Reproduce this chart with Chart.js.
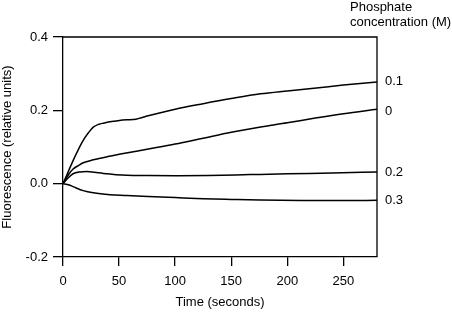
<!DOCTYPE html>
<html>
<head>
<meta charset="utf-8">
<script src="https://cdn.jsdelivr.net/npm/chart.js@4/dist/chart.umd.min.js"></script>
<style>
  html, body { margin: 0; padding: 0; background: #fff; }
  #wrap { width: 452px; height: 313px; }
</style>
</head>
<body>
<div id="wrap"><canvas id="chart" width="452" height="313"></canvas></div>
<script>
// --- data ---
const seriesNames = ["0.1", "0", "0.2", "0.3"];

const t01 = [0, 5, 9, 14, 18, 23, 27, 32, 36, 45, 57, 63, 70, 76, 100, 125, 150, 176, 200, 226, 250, 280];
const y01 = [0, 0.035, 0.063, 0.095, 0.118, 0.140, 0.154, 0.162, 0.165, 0.170, 0.1745, 0.1748, 0.180, 0.185, 0.203, 0.218, 0.232, 0.245, 0.253, 0.261, 0.269, 0.2775];

const t00 = [0, 5, 9, 14, 18, 27, 40, 50, 75, 100, 125, 150, 175, 200, 225, 250, 280];
const y00 = [0, 0.025, 0.040, 0.050, 0.057, 0.065, 0.074, 0.080, 0.094, 0.108, 0.124, 0.140, 0.154, 0.166, 0.179, 0.191, 0.203];

const t02 = [0, 5, 9, 15, 21, 28, 36, 57, 76, 100, 130, 167, 200, 240, 280];
const y02 = [0, 0.017, 0.027, 0.032, 0.033, 0.031, 0.028, 0.023, 0.022, 0.0215, 0.022, 0.0247, 0.027, 0.029, 0.032];

const t03 = [0, 5, 9, 18, 27, 42, 57, 76, 100, 125, 150, 176, 212, 250, 280];
const y03 = [0, -0.003, -0.008, -0.019, -0.025, -0.030, -0.032, -0.035, -0.038, -0.041, -0.043, -0.0448, -0.046, -0.0462, -0.0455];

const xTicks = [0, 50, 100, 150, 200, 250];
const yTicks = [-0.2, 0.0, 0.2, 0.4];
const legendTitle = ["Phosphate", "concentration (M)"];

const FONT = "'Liberation Sans', Arial, sans-serif";
const pts = (xs, ys) => xs.map((x, i) => ({ x, y: ys[i] }));

// box outline + end-of-line labels + legend heading
const annotPlugin = {
  id: "annot",
  afterDraw(chart) {
    const { ctx, chartArea: a } = chart;
    ctx.save();
    ctx.strokeStyle = "#000";
    ctx.lineWidth = 1.3;
    ctx.beginPath();
    ctx.moveTo(a.left, a.top);
    ctx.lineTo(a.right, a.top);
    ctx.lineTo(a.right, a.bottom);
    ctx.stroke();

    ctx.fillStyle = "#000";
    ctx.font = `13px ${FONT}`;
    ctx.textAlign = "left";
    ctx.textBaseline = "middle";
    chart.data.datasets.forEach((ds, i) => {
      const meta = chart.getDatasetMeta(i);
      const last = meta.data[meta.data.length - 1];
      const dy = ds.label === "0" ? 2 : 0;
      ctx.fillText(ds.label, a.right + 8, last.y + dy);
    });
    ctx.fillText(legendTitle[0], 350, 7);
    ctx.fillText(legendTitle[1], 350, 22);
    ctx.restore();
  }
};

const lineStyle = { borderColor: "#000", borderWidth: 1.5, pointRadius: 0, cubicInterpolationMode: "monotone", fill: false };

new Chart(document.getElementById("chart"), {
  type: "line",
  data: {
    datasets: [
      { label: seriesNames[0], data: pts(t01, y01), ...lineStyle },
      { label: seriesNames[1], data: pts(t00, y00), ...lineStyle },
      { label: seriesNames[2], data: pts(t02, y02), ...lineStyle },
      { label: seriesNames[3], data: pts(t03, y03), ...lineStyle }
    ]
  },
  options: {
    responsive: false,
    animation: false,
    layout: { padding: { top: 37, right: 75, left: 0, bottom: 0 } },
    plugins: { legend: { display: false }, tooltip: { enabled: false } },
    scales: {
      x: {
        type: "linear",
        min: 0, max: 280,
        afterBuildTicks: (s) => { s.ticks = xTicks.map(v => ({ value: v })); },
        afterFit: (s) => { s.height = 56; },
        grid: { drawOnChartArea: false, tickLength: 9, color: "#000", lineWidth: 1.3 },
        border: { color: "#000", width: 1.3 },
        ticks: { color: "#000", font: { size: 13, family: FONT }, padding: 8, maxRotation: 0 },
        title: { display: true, text: "Time (seconds)", color: "#000", font: { size: 13, family: FONT }, padding: { top: 0, bottom: 3 } }
      },
      y: {
        min: -0.2, max: 0.4,
        afterBuildTicks: (s) => { s.ticks = yTicks.map(v => ({ value: v })); },
        afterFit: (s) => { s.width = 63; },
        grid: { drawOnChartArea: false, tickLength: 10, color: "#000", lineWidth: 1.3 },
        border: { color: "#000", width: 1.3 },
        ticks: { color: "#000", font: { size: 13, family: FONT }, padding: 5, callback: (v) => v.toFixed(1) },
        title: { display: true, text: "Fluorescence (relative units)", color: "#000", font: { size: 13, family: FONT }, padding: { top: 0, bottom: 2 } }
      }
    }
  },
  plugins: [annotPlugin]
});
</script>
</body>
</html>
